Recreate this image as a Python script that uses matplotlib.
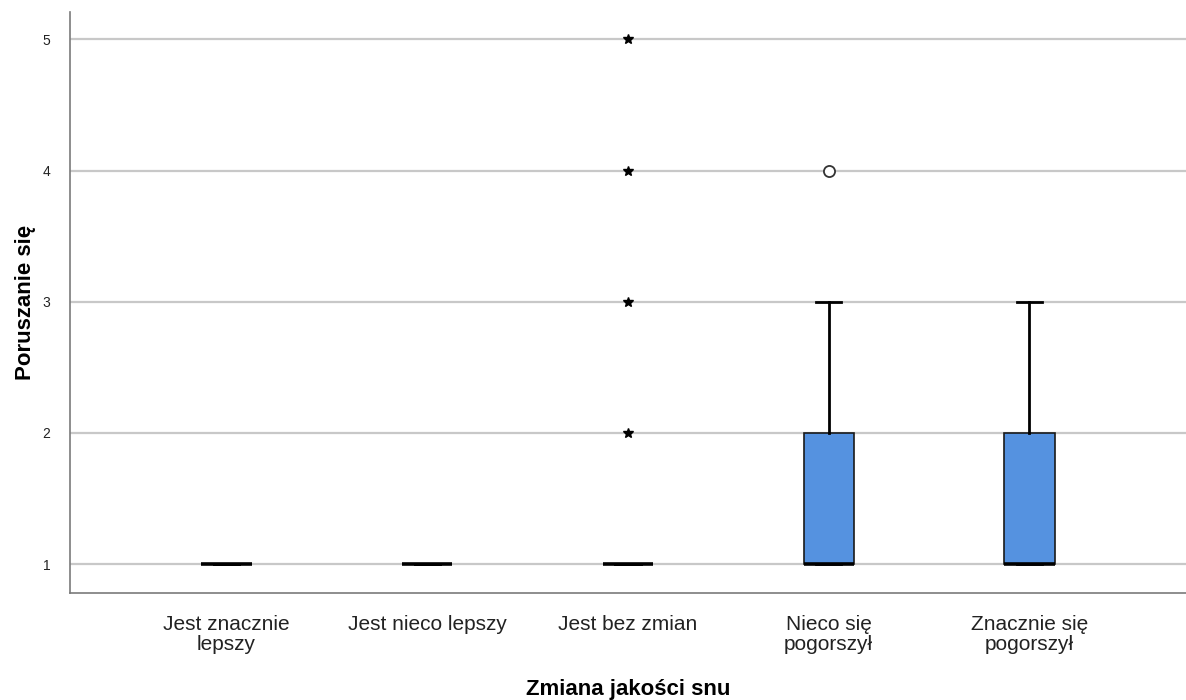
import matplotlib
matplotlib.use("Agg")
import matplotlib.pyplot as plt

plt.rcParams['font.family'] = ['Liberation Sans', 'DejaVu Sans']

categories = ["Jest znacznie\nlepszy", "Jest nieco lepszy", "Jest bez zmian",
              "Nieco się\npogorszył", "Znacznie się\npogorszył"]
q1 = [1, 1, 1, 1, 1]
median = [1, 1, 1, 1, 1]
q3 = [1, 1, 1, 2, 2]
whisker_low = [1, 1, 1, 1, 1]
whisker_high = [1, 1, 1, 3, 3]
outliers_mild = [[], [], [], [4], []]
outliers_extreme = [[], [], [2, 3, 4, 5], [], []]
y_ticks = [1, 2, 3, 4, 5]

box_color = "#5592e0"

fig = plt.figure(figsize=(11.86, 7.0), dpi=100)
ax = fig.add_axes([0.059, 0.153, 0.941, 0.830])

stats = []
for i in range(len(categories)):
    stats.append(dict(q1=q1[i], med=median[i], q3=q3[i],
                      whislo=whisker_low[i], whishi=whisker_high[i],
                      fliers=[]))

positions = list(range(len(categories)))
ax.bxp(stats, positions=positions, widths=0.25, patch_artist=True,
       showfliers=False,
       boxprops=dict(facecolor=box_color, edgecolor="#1a1a1a", linewidth=1.2),
       medianprops=dict(color="black", linewidth=2.6, solid_capstyle="butt"),
       whiskerprops=dict(color="black", linewidth=2.0),
       capprops=dict(color="black", linewidth=2.0),
       zorder=3)

for i, vals in enumerate(outliers_mild):
    if vals:
        ax.plot([positions[i]] * len(vals), vals, linestyle="none",
                marker="o", markersize=8, markerfacecolor="white",
                markeredgecolor="#333333", markeredgewidth=1.3, zorder=4)
for i, vals in enumerate(outliers_extreme):
    if vals:
        ax.plot([positions[i]] * len(vals), vals, linestyle="none",
                marker="*", markersize=7.5, color="black", zorder=4)

ax.set_xlim(-0.78, 4.78)
ax.set_ylim(0.78, 5.21)
ax.set_yticks(y_ticks)
ax.set_yticklabels([str(v) for v in y_ticks], fontsize=10, color="#222222")
ax.set_xticks(positions)
ax.set_xticklabels(categories, fontsize=15, color="#222222", linespacing=1.08)
ax.tick_params(axis="both", length=0)
ax.tick_params(axis="x", pad=16)
ax.tick_params(axis="y", pad=14)

ax.grid(axis="y", color="#c8c8c8", linewidth=1.6, zorder=0)
ax.set_axisbelow(True)
for side in ("top", "right"):
    ax.spines[side].set_visible(False)
for side in ("left", "bottom"):
    ax.spines[side].set_color("#7a7a7a")
    ax.spines[side].set_linewidth(1.2)

ax.set_xlabel("Zmiana jakości snu", fontsize=16, fontweight="bold", labelpad=18)
ax.set_ylabel("Poruszanie się", fontsize=16, fontweight="bold", labelpad=5)

fig.savefig("out.png", dpi=100, facecolor="white")
